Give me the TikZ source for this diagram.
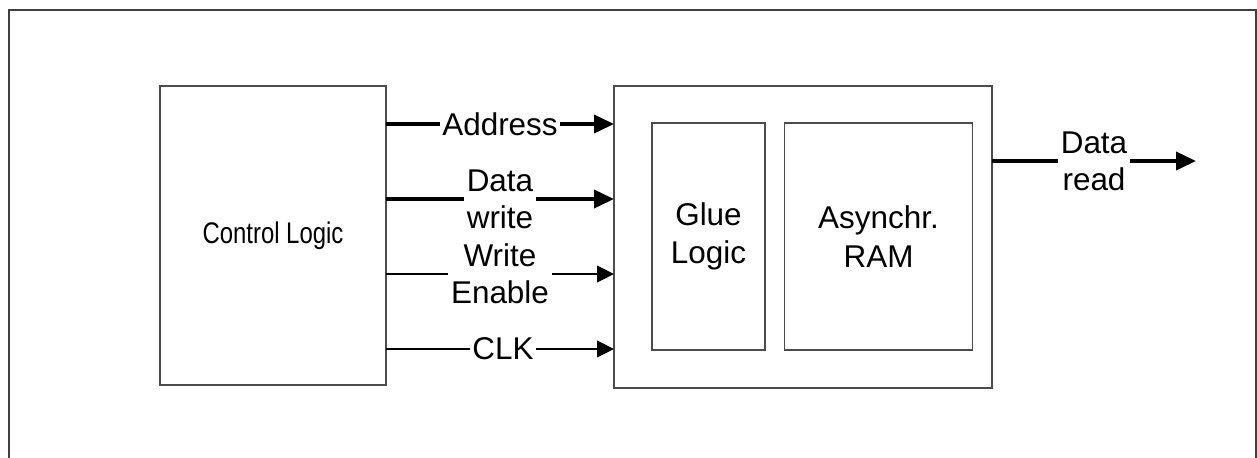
\documentclass[tikz,border=0pt]{standalone}
\usepackage{fontspec}
\setmainfont{Liberation Sans}
\newfontfamily\narrowfont[FakeStretch=0.8]{Liberation Sans}
\usetikzlibrary{arrows.meta}

\begin{document}
\begin{tikzpicture}[x=0.02cm, y=-0.02cm,
    box/.style={draw=black!70, line width=0.7pt, fill=white, align=center,
        font=\fontsize{17.9}{21.8}\selectfont},
    lbl/.style={fill=white, inner sep=0.06cm, align=center,
        font=\fontsize{17.9}{21.2}\selectfont},
    bus/.style={line width=2.1pt, -{Triangle[length=0.4cm, width=0.36cm]}},
    wire/.style={line width=1.4pt, -{Triangle[length=0.34cm, width=0.33cm]}}]
            \useasboundingbox (0,0) rectangle (1257,457);
            \draw[black!75, line width=1.2pt] (9,470) -- (9,10) -- (1256,10) -- (1256,470);

            \node[box, minimum width=4.52cm, minimum height=5.98cm,
                font=\narrowfont\fontsize{17}{20}\selectfont] (CL) at (273,235.5) {Control Logic};
            \node[box, minimum width=7.56cm, minimum height=6.04cm] (MB) at (803,237) {};
            \node[box, minimum width=2.26cm, minimum height=4.54cm] (GL) at (708.5,236.5) {Glue\\Logic};
            \node[box, minimum width=3.76cm, minimum height=4.54cm] (RA) at (878.5,236.5) {Asynchr.\\RAM};

            \coordinate (A1) at (386,124);
            \coordinate (A2) at (614,124);
            \coordinate (B1) at (386,199);
            \coordinate (B2) at (614,199);
            \coordinate (C1) at (386,274);
            \coordinate (C2) at (614,274);
            \coordinate (D1) at (386,349);
            \coordinate (D2) at (614,349);
            \coordinate (E1) at (992,161);
            \coordinate (E2) at (1196,161);

            \draw[bus] (A1) -- node[lbl, inner sep=0.04cm] (AL) {Address} (A2);
            \draw[bus] (B1) -- node[lbl] (BL) {Data\\write} (B2);
            \draw[wire] (C1) -- node[lbl] (CLB) {Write\\Enable} (C2);
            \draw[wire] (D1) -- node[lbl, inner sep=0.04cm, xshift=0.06cm] (DL) {CLK} (D2);
            \draw[bus] (E1) -- node[lbl] (EL) {Data\\read} (E2);
        \end{tikzpicture}
\end{document}
